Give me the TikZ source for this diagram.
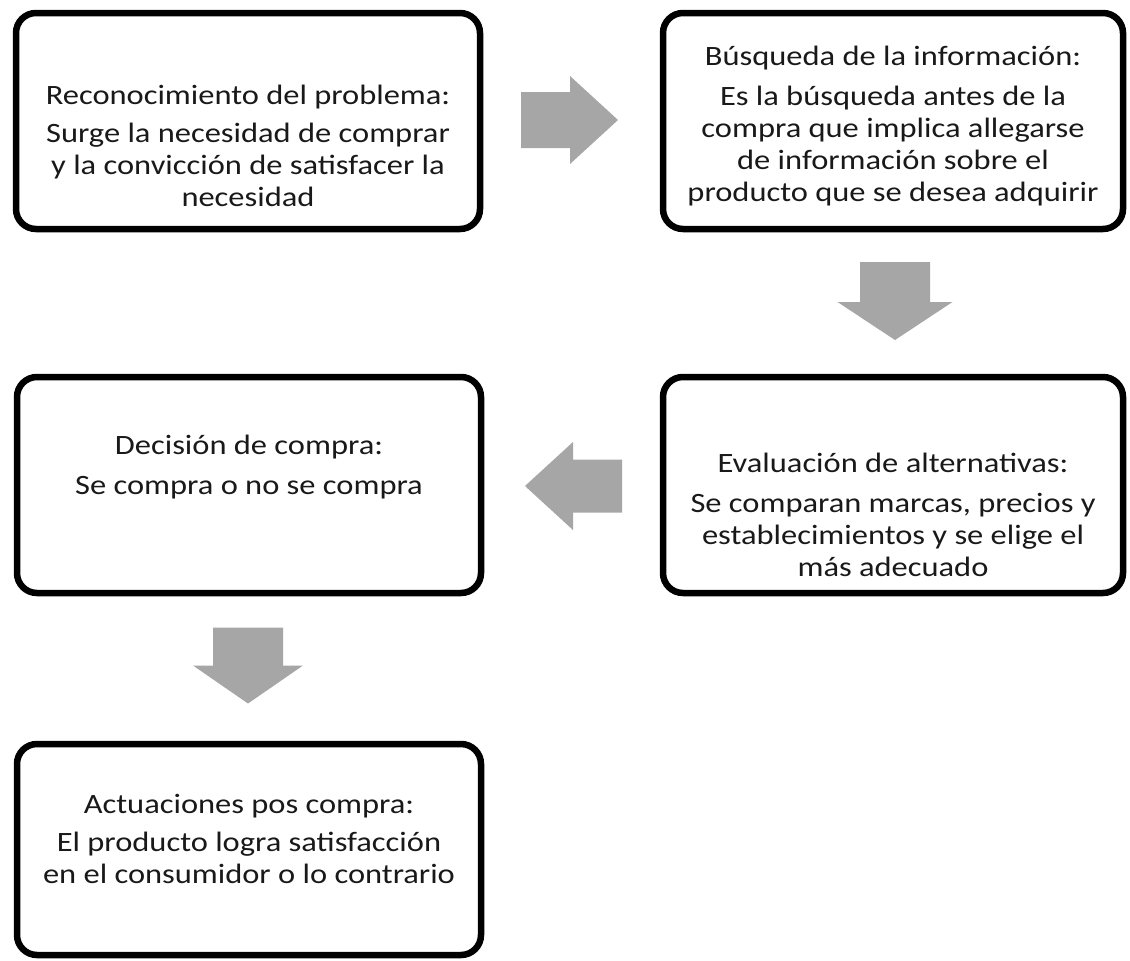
\documentclass[tikz,border=0pt]{standalone}
\usepackage{fontspec}
\setmainfont{Carlito}[FakeStretch=1.16]
\usetikzlibrary{calc}
\definecolor{arrowgray}{RGB}{166,166,166}
\definecolor{txtcol}{RGB}{25,25,25}
\begin{document}
\begin{tikzpicture}[x=1pt,y=-1pt,
  box/.style={draw=black, line width=6.5pt, rounded corners=20pt, fill=white, inner sep=0pt},
  txt/.style={align=center, text=txtcol, font=\fontsize{28}{32}\selectfont, inner sep=0pt},
  blockarrow/.style={fill=arrowgray, draw=none}]
\useasboundingbox[fill=white] (0,0) rectangle (1130,961);

% boxes
\node[box, minimum width=464pt, minimum height=216pt] (b1) at (248,121) {};
\node[box, minimum width=460pt, minimum height=216pt] (b2) at (893,121) {};
\node[box, minimum width=464pt, minimum height=216pt] (b3) at (249,485) {};
\node[box, minimum width=460pt, minimum height=216pt] (b4) at (893,485) {};
\node[box, minimum width=464pt, minimum height=211pt] (b5) at (249,849.5) {};

% texts
\node[txt] (t1) at (248,146) {Reconocimiento del problema:\\[6pt]Surge la necesidad de comprar\\y la convicción de satisfacer la\\necesidad};
\node[txt] (t2) at (893,126) {Búsqueda de la información:\\[8pt]Es la búsqueda antes de la\\compra que implica allegarse\\de información sobre el\\producto que se desea adquirir};
\node[txt] (t3) at (249,467) {Decisión de compra:\\[8pt]Se compra o no se compra};
\node[txt] (t4) at (893,515) {Evaluación de alternativas:\\[8pt]Se comparan marcas, precios y\\establecimientos y se elige el\\más adecuado};
\node[txt] (t5) at (249,839) {Actuaciones pos compra:\\[6pt]El producto logra satisfacción\\en el consumidor o lo contrario};

% block arrows
\coordinate (a12) at ($(b1.east)!0.5!(b2.west)+(-2,-1)$);
\coordinate (a24) at ($(b2.south)!0.5!(b4.north)+(2,-2)$);
\coordinate (a43) at ($(b4.west)!0.5!(b3.east)+(1.5,1)$);
\coordinate (a35) at ($(b3.south)!0.5!(b5.north)+(-1,-3)$);

\begin{scope}[shift={(a12)}]
\fill[blockarrow] (-48.5,-28) -- (0.5,-28) -- (0.5,-44) -- (48.5,0) -- (0.5,44) -- (0.5,28) -- (-48.5,28) -- cycle;
\end{scope}
\begin{scope}[shift={(a24)}]
\fill[blockarrow] (-35,-39) -- (35,-39) -- (35,1) -- (57.5,1) -- (0,39) -- (-57.5,1) -- (-35,1) -- cycle;
\end{scope}
\begin{scope}[shift={(a43)}]
\fill[blockarrow] (48.5,-26.5) -- (-0.5,-26.5) -- (-0.5,-44) -- (-48.5,0) -- (-0.5,44) -- (-0.5,26.5) -- (48.5,26.5) -- cycle;
\end{scope}
\begin{scope}[shift={(a35)}]
\fill[blockarrow] (-35,-38) -- (35,-38) -- (35,0) -- (55,0) -- (0,38) -- (-55,0) -- (-35,0) -- cycle;
\end{scope}
\end{tikzpicture}
\end{document}
